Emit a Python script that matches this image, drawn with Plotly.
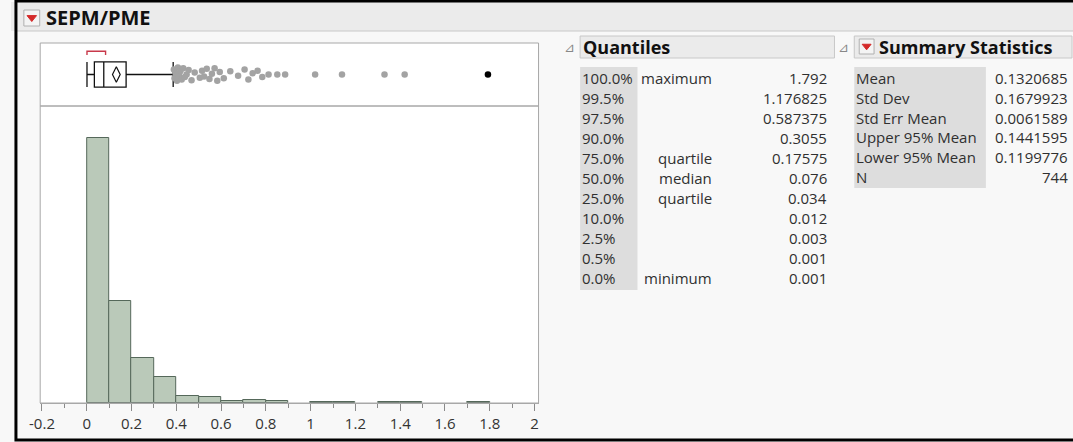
import plotly.graph_objects as go

W, H = 1073, 442

# ---------------- data ----------------
bin_starts = [0.0, 0.1, 0.2, 0.3, 0.4, 0.5, 0.6, 0.7, 0.8, 0.9, 1.0, 1.1, 1.2, 1.3, 1.4, 1.5, 1.6, 1.7]
bin_counts = [428, 165, 73, 42, 11, 9, 3, 5, 3, 0, 1, 1, 0, 1, 1, 0, 0, 1]
bin_width = 0.1

quant_pcts = ["100.0%", "99.5%", "97.5%", "90.0%", "75.0%", "50.0%", "25.0%", "10.0%", "2.5%", "0.5%", "0.0%"]
quant_names = ["maximum", "", "", "", "quartile", "median", "quartile", "", "", "", "minimum"]
quant_values = ["1.792", "1.176825", "0.587375", "0.3055", "0.17575", "0.076", "0.034", "0.012", "0.003", "0.001", "0.001"]

stat_names = ["Mean", "Std Dev", "Std Err Mean", "Upper 95% Mean", "Lower 95% Mean", "N"]
stat_values = ["0.1320685", "0.1679923", "0.0061589", "0.1441595", "0.1199776", "744"]

upper_whisker = 0.386
shortest_half = [0.001, 0.084]

outlier_values = [0.389, 0.392, 0.397,
                  0.403, 0.407, 0.412, 0.418, 0.424, 0.431, 0.438, 0.446, 0.455, 0.468, 0.482,
                  0.505, 0.515, 0.524, 0.536, 0.548, 0.559, 0.571, 0.583, 0.594,
                  0.612, 0.641, 0.676,
                  0.705, 0.722, 0.741, 0.763, 0.784,
                  0.812, 0.851, 0.886,
                  1.02, 1.14, 1.33, 1.42]
outlier_jitter = [0.08, -0.06, 0.02, -0.10, 0.11, -0.02, 0.05, -0.08, 0.10, -0.04, 0.00, 0.07, -0.09, 0.03,
                  -0.05, 0.06, -0.03, 0.09, -0.07, 0.01, 0.10, -0.10, 0.04,
                  -0.06, 0.05, -0.02, 0.08, -0.08, 0.02, 0.06, -0.04,
                  0.00, 0.00, 0.00,
                  0.00, 0.00, 0.00, 0.00]
selected_value = [1.792]

x_tick_vals = [-0.2, 0, 0.2, 0.4, 0.6, 0.8, 1, 1.2, 1.4, 1.6, 1.8, 2]
x_tick_text = ["-0.2", "0", "0.2", "0.4", "0.6", "0.8", "1", "1.2", "1.4", "1.6", "1.8", "2"]

# derived statistics from the tables
q3 = float(quant_values[4])
q_med = float(quant_values[5])
q1 = float(quant_values[6])
q_min = float(quant_values[10])
mean = float(stat_values[0])

# ---------------- helpers ----------------
def px(x):
    return x / W


def py(y):
    return 1 - y / H


FONT = "Segoe UI, Open Sans, Noto Sans, sans-serif"
TXT = "#303030"

fig = go.Figure()

# histogram
hx = [s + bin_width / 2 for s, c in zip(bin_starts, bin_counts) if c > 0]
hy = [c for c in bin_counts if c > 0]
fig.add_trace(go.Bar(
    x=hx, y=hy, width=bin_width,
    marker=dict(color="#bac9b9", line=dict(color="#55685a", width=1)),
    xaxis="x", yaxis="y", hoverinfo="skip", showlegend=False,
))

# box plot (precomputed)
fig.add_trace(go.Box(
    y=[0.5], q1=[q1], median=[q_med], q3=[q3],
    lowerfence=[q_min], upperfence=[upper_whisker],
    orientation="h", width=0.40, whiskerwidth=1,
    fillcolor="rgba(0,0,0,0)", line=dict(color="#111111", width=1.3),
    boxpoints=False, xaxis="x2", yaxis="y2", hoverinfo="skip", showlegend=False,
))

# mean diamond
fig.add_trace(go.Scatter(
    x=[mean], y=[0.5], mode="markers",
    marker=dict(symbol="diamond-tall-open", size=11, color="#111111", line=dict(width=1.2)),
    xaxis="x2", yaxis="y2", hoverinfo="skip", showlegend=False,
))

# shortest half bracket
fig.add_trace(go.Scatter(
    x=[shortest_half[0], shortest_half[0], shortest_half[1], shortest_half[1]],
    y=[0.81, 0.87, 0.87, 0.81], mode="lines",
    line=dict(color="#c8394a", width=1.4),
    xaxis="x2", yaxis="y2", hoverinfo="skip", showlegend=False,
))

# outlier points
fig.add_trace(go.Scatter(
    x=outlier_values, y=[0.5 + j for j in outlier_jitter], mode="markers",
    marker=dict(size=6.5, color="#a3a3a3"),
    xaxis="x2", yaxis="y2", hoverinfo="skip", showlegend=False,
))
fig.add_trace(go.Scatter(
    x=selected_value, y=[0.5], mode="markers",
    marker=dict(size=6.5, color="#000000"),
    xaxis="x2", yaxis="y2", hoverinfo="skip", showlegend=False,
))

plot_l, plot_r = 29.5, 533
box_t, sep_y, base_y = 43, 106, 403
xr = [-0.208, 2.018]

shapes = []
shapes.append(dict(type="rect", xref="paper", yref="paper", x0=px(0), x1=px(W), y0=py(2), y1=py(31),
                   fillcolor="#ebebeb", line=dict(width=0), layer="below"))
shapes.append(dict(type="line", xref="paper", yref="paper", x0=px(6), x1=px(W), y0=py(31), y1=py(31),
                   line=dict(color="#c8c8c8", width=1)))


def icon(x0, y0, s):
    shapes.append(dict(type="rect", xref="paper", yref="paper", x0=px(x0), x1=px(x0 + s), y0=py(y0), y1=py(y0 + s),
                       fillcolor="#f4f4f4", line=dict(color="#b0b0b0", width=1)))
    shapes.append(dict(type="path", xref="paper", yref="paper",
                       path="M {} {} L {} {} L {} {} Z".format(px(x0 + s * 0.2), py(y0 + s * 0.35),
                                                               px(x0 + s * 0.8), py(y0 + s * 0.35),
                                                               px(x0 + s * 0.5), py(y0 + s * 0.72)),
                       fillcolor="#d42a2a", line=dict(color="#d42a2a", width=1)))


icon(13, 10, 16)
icon(857, 39, 15)

shapes.append(dict(type="rect", xref="paper", yref="paper", x0=px(575), x1=px(832), y0=py(36), y1=py(58),
                   fillcolor="#ebebeb", line=dict(color="#c8c8c8", width=1), layer="below"))
shapes.append(dict(type="rect", xref="paper", yref="paper", x0=px(852), x1=px(1072), y0=py(36), y1=py(58),
                   fillcolor="#ebebeb", line=dict(color="#c8c8c8", width=1), layer="below"))
shapes.append(dict(type="rect", xref="paper", yref="paper", x0=px(575), x1=px(633), y0=py(67), y1=py(290),
                   fillcolor="#dddddd", line=dict(width=0), layer="below"))
shapes.append(dict(type="rect", xref="paper", yref="paper", x0=px(852), x1=px(985), y0=py(67), y1=py(188),
                   fillcolor="#dddddd", line=dict(width=0), layer="below"))
shapes.append(dict(type="rect", xref="paper", yref="paper", x0=px(plot_l), x1=px(plot_r), y0=py(sep_y), y1=py(box_t),
                   line=dict(color="#a8a8a8", width=1)))
shapes.append(dict(type="rect", xref="paper", yref="paper", x0=px(plot_l), x1=px(plot_r), y0=py(base_y), y1=py(sep_y),
                   line=dict(color="#a8a8a8", width=1)))
# window border (top, left, bottom)
shapes.append(dict(type="path", xref="paper", yref="paper",
                   path="M {} {} L {} {} L {} {} L {} {}".format(px(W), py(1), px(5), py(1), px(5), py(440),
                                                                 px(W), py(440)),
                   line=dict(color="#000000", width=3)))

ann = []


def text(x, y, s, anchor="left", size=15, bold=False, color=TXT):
    ann.append(dict(x=px(x), y=py(y), xref="paper", yref="paper", text=("<b>%s</b>" % s) if bold else s,
                    showarrow=False, xanchor=anchor, yanchor="middle",
                    font=dict(family=FONT, size=size, color=color)))


text(33, 18, "SEPM/PME", size=20, bold=True, color="#111111")
text(557, 47, "⊿", size=13, color="#888888")
text(576, 47, "Quantiles", size=18, bold=True, color="#111111")
text(834, 47, "⊿", size=13, color="#888888")
text(875, 47, "Summary Statistics", size=18, bold=True, color="#111111")

row0, dy = 78, 20
for i, (p, n, v) in enumerate(zip(quant_pcts, quant_names, quant_values)):
    y = row0 + i * dy
    text(575, y, p)
    if n:
        text(710, y, n, anchor="right")
    text(826, y, v, anchor="right")

for i, (n, v) in enumerate(zip(stat_names, stat_values)):
    y = row0 + i * 19.8
    text(852, y, n)
    text(1070, y, v, anchor="right")

fig.update_layout(
    width=W, height=H, margin=dict(l=0, r=0, t=0, b=0),
    paper_bgcolor="#f8f8f8", plot_bgcolor="#ffffff",
    bargap=0, showlegend=False,
    xaxis=dict(domain=[px(plot_l), px(plot_r)], range=xr, anchor="y",
               tickvals=x_tick_vals, ticktext=x_tick_text, ticks="outside", ticklen=7,
               tickcolor="#8a8a8a", tickwidth=1,
               minor=dict(dtick=0.1, tick0=0, ticks="outside", ticklen=4, tickcolor="#8a8a8a"),
               showgrid=False, zeroline=False, showline=True, linecolor="#a8a8a8",
               tickfont=dict(family=FONT, size=15, color="#333333"), fixedrange=True),
    yaxis=dict(domain=[py(base_y), py(sep_y)], range=[0, 479], visible=False, fixedrange=True),
    xaxis2=dict(domain=[px(plot_l), px(plot_r)], range=xr, anchor="y2", matches="x", visible=False),
    yaxis2=dict(domain=[py(sep_y), py(box_t)], range=[0, 1], visible=False, fixedrange=True),
    shapes=shapes, annotations=ann,
)

fig.write_html("out.html", config={"displayModeBar": False},
               post_script="document.body.style.margin='0';document.body.style.overflow='hidden';")
